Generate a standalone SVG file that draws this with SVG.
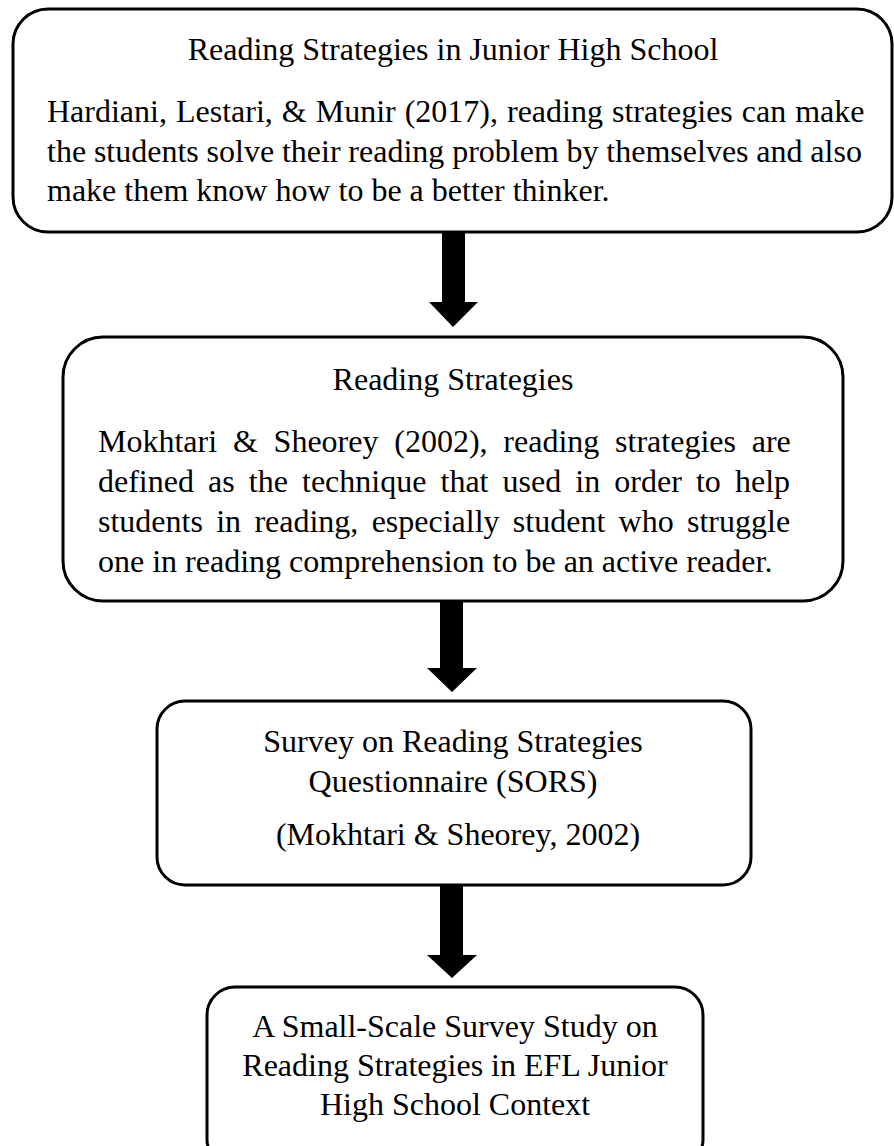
<svg xmlns="http://www.w3.org/2000/svg" width="894" height="1146" viewBox="0 0 894 1146">
<style>
.box{fill:#fff;stroke:#000;stroke-width:3}
.t{font-family:"Liberation Serif","Times New Roman",serif;font-size:32px;fill:#000}
.c{text-anchor:middle}
.arrow{fill:#000;stroke:none}
</style>
<rect width="894" height="1146" fill="#fff"/>
<g id="connectors">
<polygon class="arrow" points="442,232 465,232 465,302 478,302 453,327 429,302 442,302"/>
<polygon class="arrow" points="440,601 463,601 463,668 477,668 452,692 427,668 440,668"/>
<polygon class="arrow" points="440,885 463,885 463,955 477,955 452,978 427,955 440,955"/>
</g>
<g id="node1">
<rect class="box" x="13" y="9" width="879" height="223" rx="35" ry="35"/>
<text class="t c" x="453" y="60">Reading Strategies in Junior High School</text>
<text class="t" x="47" y="122" word-spacing="1">Hardiani, Lestari, &amp; Munir (2017), reading strategies can make</text>
<text class="t" x="47" y="162" word-spacing="-0.2">the students solve their reading problem by themselves and also</text>
<text class="t" x="47" y="201">make them know how to be a better thinker.</text>
</g>
<g id="node2">
<rect class="box" x="63" y="337" width="780" height="264" rx="40" ry="40"/>
<text class="t c" x="453" y="390">Reading Strategies</text>
<text class="t" x="98" y="452" word-spacing="7.8">Mokhtari &amp; Sheorey (2002), reading strategies are</text>
<text class="t" x="98" y="492" word-spacing="6.1">defined as the technique that used in order to help</text>
<text class="t" x="98" y="532" word-spacing="5.3">students in reading, especially student who struggle</text>
<text class="t" x="98" y="572">one in reading comprehension to be an active reader.</text>
</g>
<g id="node3">
<rect class="box" x="157" y="701" width="594" height="184" rx="28" ry="28"/>
<text class="t c" x="453" y="752">Survey on Reading Strategies</text>
<text class="t c" x="453" y="792">Questionnaire (SORS)</text>
<text class="t c" x="458" y="845">(Mokhtari &amp; Sheorey, 2002)</text>
</g>
<g id="node4">
<rect class="box" x="207" y="987" width="496" height="180" rx="28" ry="28"/>
<text class="t c" x="455" y="1037">A Small-Scale Survey Study on</text>
<text class="t c" x="455" y="1076">Reading Strategies in EFL Junior</text>
<text class="t c" x="455" y="1115">High School Context</text>
</g>
</svg>
